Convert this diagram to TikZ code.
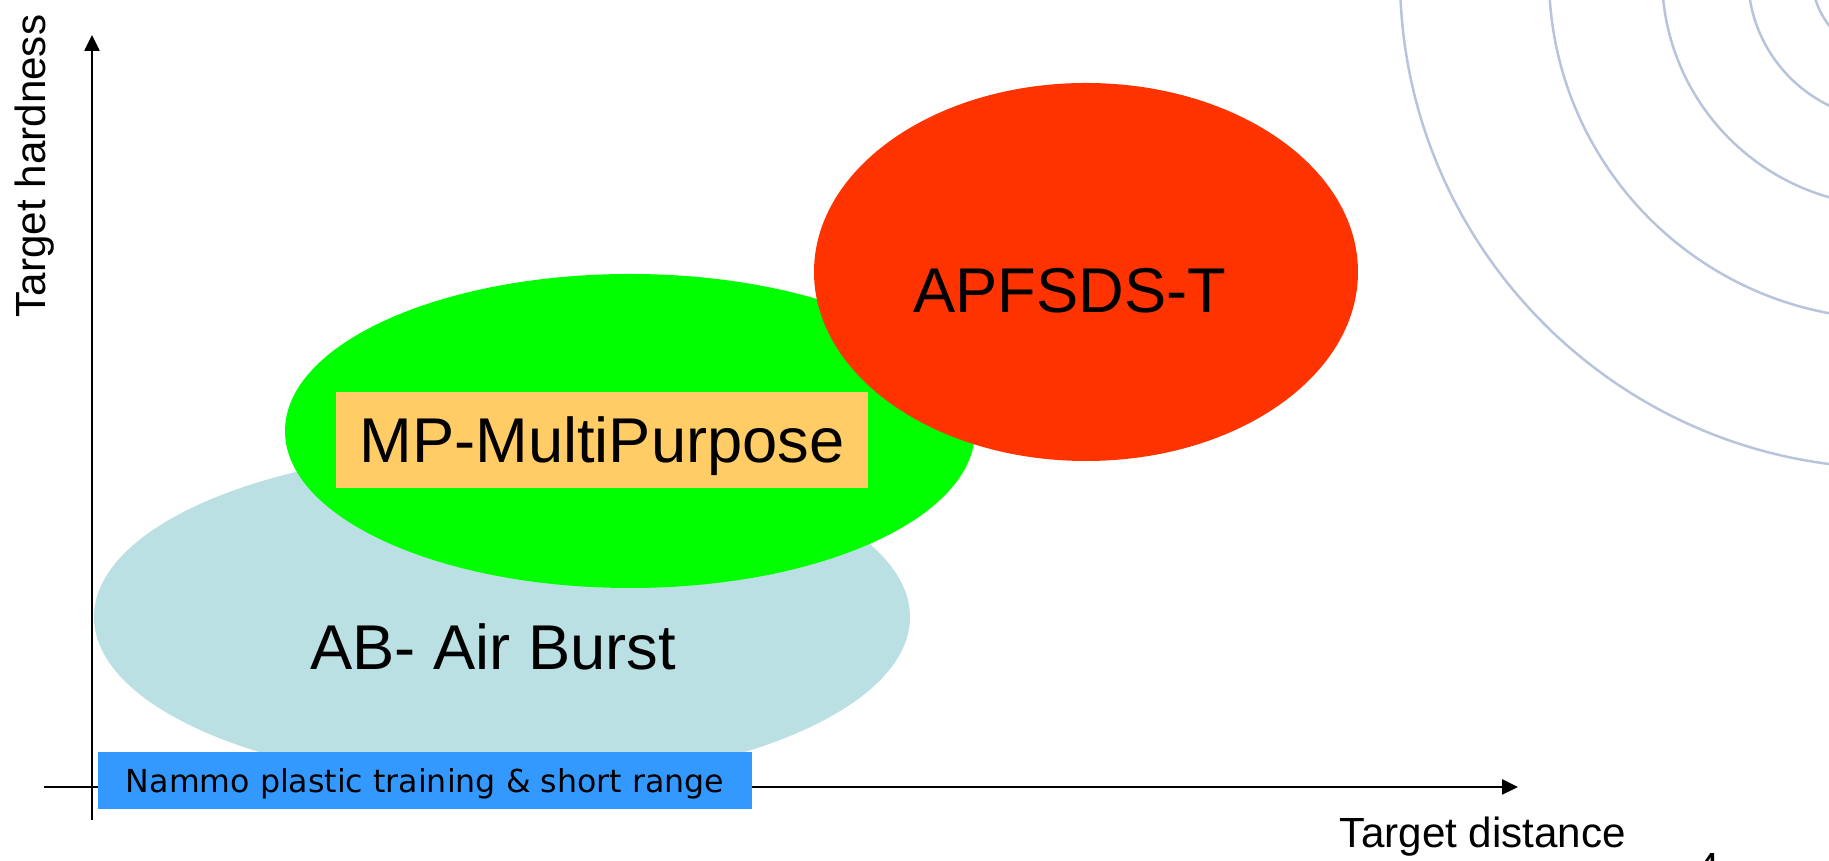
\documentclass[tikz,border=0pt]{standalone}
\usepackage{fontspec}
\setmainfont{Liberation Sans}
\newfontfamily\nammofont{DejaVu Sans}
\usetikzlibrary{shapes.geometric,arrows.meta}
\definecolor{abblue}{RGB}{187,224,227}
\definecolor{mpgreen}{RGB}{0,255,0}
\definecolor{apred}{RGB}{255,51,0}
\definecolor{mporange}{RGB}{255,204,102}
\definecolor{nammoblue}{RGB}{51,153,255}
\definecolor{ringgrey}{RGB}{184,196,220}
\begin{document}
\begin{tikzpicture}[line join=round,>={Triangle[length=1.6mm,width=1.5mm]},
	zone/.style={ellipse,inner sep=0pt},
	big/.style={font=\fontsize{18}{21.6}\selectfont,inner sep=0pt},
	axislabel/.style={font=\fontsize{12}{14.4}\selectfont,inner sep=0pt}]
	\useasboundingbox (0,0) rectangle (18.29,8.61);
	% rings in the corner
	\begin{scope}
	\clip (0,0) rectangle (18.29,8.61);
	\coordinate (c) at (18.92,8.85);
	\foreach \r in {0.80,1.44,2.30,3.43,4.92} \draw[ringgrey,line width=0.25mm] (c) circle (\r);
	\end{scope}
	% axes
	\coordinate (ybot) at (0.92,0.41); \coordinate (ytop) at (0.92,8.26);
	\coordinate (xleft) at (0.44,0.74); \coordinate (xright) at (15.18,0.74);
	\draw[->,line width=0.25mm] (ybot)--(ytop);
	\draw[->,line width=0.25mm] (xleft)--(xright);
	\node[axislabel,rotate=90] (hardness) at (0.345,6.95) {Target hardness};
	\node[axislabel,anchor=base] (distance) at (14.83,0.13) {Target distance};
	\node[axislabel,anchor=north] (page) at (17.08,0.08) {4};
	% zones
	\node[zone,fill=abblue,minimum width=8.16cm,minimum height=3.36cm] (ab) at (5.02,2.44) {};
	\node[zone,fill=mpgreen,minimum width=6.9cm,minimum height=3.14cm] (mp) at (6.30,4.30) {};
	\node[zone,fill=apred,minimum width=5.44cm,minimum height=3.78cm] (ap) at (10.86,5.89) {};
	\node[big,anchor=base] (abtext) at (4.93,1.91) {AB- Air Burst};
	\node[big,anchor=base] (aptext) at (10.70,5.48) {APFSDS-T};
	\node[big,fill=mporange,minimum width=5.32cm,minimum height=0.96cm,text depth=0pt] (mpbox) at (6.02,4.21) {MP-MultiPurpose};
	\node[fill=nammoblue,minimum width=6.54cm,minimum height=0.57cm,inner sep=0pt,text depth=0pt,font=\nammofont\fontsize{9}{10.8}\selectfont] (nammo) at (4.25,0.805) {Nammo plastic training \& short range};
\end{tikzpicture}
\end{document}
